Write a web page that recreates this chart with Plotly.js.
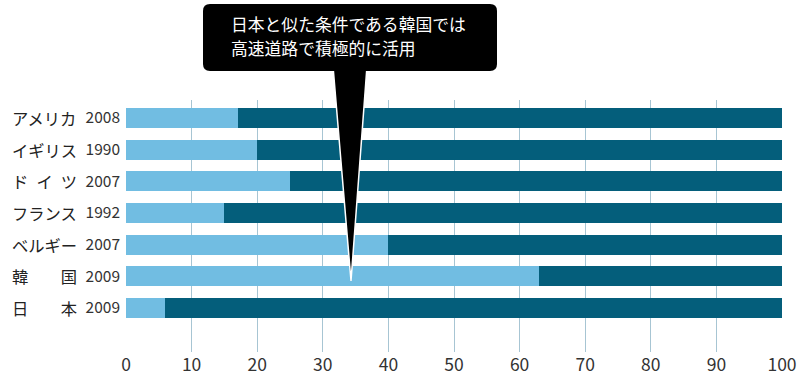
<!DOCTYPE html>
<html>
<head>
<meta charset="utf-8">
<script src="https://cdn.plot.ly/plotly-3.0.1.min.js"></script>
<style>
html,body{margin:0;padding:0;background:#fff;}
#chart{width:800px;height:376px;}
</style>
</head>
<body>
<div id="chart"></div>
<script>
// Data
const countries = ["アメリカ", "イギリス", "ドイツ", "フランス", "ベルギー", "韓国", "日本"];
const countryLabels = ["アメリカ", "イギリス", "ド\u2002イ\u2002ツ", "フランス", "ベルギー", "韓\u3000\u3000国", "日\u3000\u3000本"];
const years = ["2008", "1990", "2007", "1992", "2007", "2009", "2009"];
const lightValues = [17, 20, 25, 15, 40, 63, 6];
const darkValues = [83, 80, 75, 85, 60, 37, 94];
const xTicks = [0, 10, 20, 30, 40, 50, 60, 70, 80, 90, 100];
const calloutLines = ["日本と似た条件である韓国では", "高速道路で積極的に活用"];

const W = 800, H = 376;
const M = {l: 126, r: 18, t: 100, b: 24};
const PW = W - M.l - M.r, PH = H - M.t - M.b;
const px = x => (x - M.l) / PW;
const py = y => (H - M.b - y) / PH;

const FONT = '"Noto Sans CJK JP", "Noto Sans", sans-serif';

const traces = [
  {type: 'bar', orientation: 'h', y: countries, x: lightValues, marker: {color: '#71bde2'}, width: 0.63, hoverinfo: 'skip', showlegend: false},
  {type: 'bar', orientation: 'h', y: countries, x: darkValues, marker: {color: '#045e7b'}, width: 0.63, hoverinfo: 'skip', showlegend: false}
];

// rounded rect callout
const bx0 = 203, bx1 = 497, by0 = 4, by1 = 71, r = 7;
function P(x, y) { return px(x).toFixed(5) + ',' + py(y).toFixed(5); }
const boxPath = 'M' + P(bx0 + r, by0) + ' L' + P(bx1 - r, by0) + ' Q' + P(bx1, by0) + ' ' + P(bx1, by0 + r) +
  ' L' + P(bx1, by1 - r) + ' Q' + P(bx1, by1) + ' ' + P(bx1 - r, by1) +
  ' L' + P(bx0 + r, by1) + ' Q' + P(bx0, by1) + ' ' + P(bx0, by1 - r) +
  ' L' + P(bx0, by0 + r) + ' Q' + P(bx0, by0) + ' ' + P(bx0 + r, by0) + ' Z';
const wedgePath = 'M' + P(333, 66) + ' L' + P(351, 281) + ' L' + P(367, 66) + ' Z';

const annotations = [];
countries.forEach((c, i) => {
  annotations.push({xref: 'paper', yref: 'y', x: px(10), y: c, xanchor: 'left', yanchor: 'middle',
    text: countryLabels[i], showarrow: false, font: {family: FONT, size: 16.3, color: '#222'}});
});
calloutLines.forEach((t, i) => {
  annotations.push({xref: 'paper', yref: 'paper', x: px(229), y: py(24 + i * 24), xanchor: 'left', yanchor: 'middle',
    text: t, showarrow: false, font: {family: FONT, size: 16.8, color: '#fff'}});
});

const layout = {
  width: W, height: H,
  margin: M,
  paper_bgcolor: '#fff', plot_bgcolor: '#fff',
  barmode: 'stack',
  bargap: 0.37,
  font: {family: FONT, color: '#333'},
  xaxis: {
    range: [0, 100], tickvals: xTicks, ticktext: xTicks.map(String),
    showgrid: true, gridcolor: '#a7c5d3', gridwidth: 1, zeroline: false,
    showline: false, ticks: '', tickfont: {family: FONT, size: 17.5, color: '#333'},
    fixedrange: true
  },
  yaxis: {
    type: 'category', categoryarray: countries, categoryorder: 'array',
    range: [7.39, -0.57],
    tickvals: countries, ticktext: years,
    showgrid: false, zeroline: false, showline: false, ticks: '',
    tickfont: {family: FONT, size: 15.5, color: '#333'},
    ticklabelstandoff: 5,
    fixedrange: true
  },
  shapes: [
    {type: 'path', xref: 'paper', yref: 'paper', path: wedgePath, fillcolor: '#000', line: {color: '#fff', width: 1.5}, layer: 'above'},
    {type: 'path', xref: 'paper', yref: 'paper', path: boxPath, fillcolor: '#000', line: {width: 0}, layer: 'above'}
  ],
  annotations: annotations
};

Plotly.newPlot('chart', traces, layout, {displayModeBar: false, staticPlot: true});
</script>
</body>
</html>
